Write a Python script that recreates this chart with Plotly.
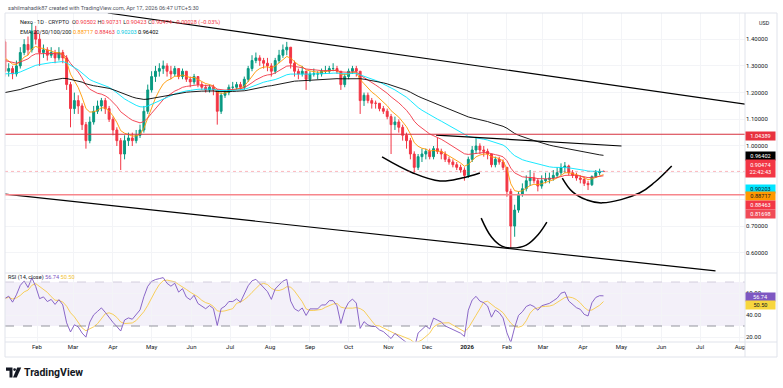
import numpy as np
import pandas as pd
import plotly.graph_objects as go

# ---------------- data ----------------
BAR_START = "2025-01-07"
BAR_DAYS = 3
FIRST_OPEN = 1.39
CLOSES = [1.28, 1.29, 1.27, 1.30, 1.35, 1.38, 1.36, 1.43, 1.40,
          1.35, 1.36, 1.34, 1.35, 1.33, 1.35, 1.33, 1.23, 1.14,
          1.17, 1.15, 1.08, 1.02, 1.09, 1.13, 1.15, 1.17, 1.14, 1.10,
          1.06, 1.02, 0.97, 1.02, 1.03, 1.02, 1.04, 1.06, 1.13, 1.21,
          1.26, 1.28, 1.29, 1.30, 1.28, 1.27, 1.29, 1.26, 1.28, 1.25,
          1.24, 1.26, 1.23, 1.22, 1.21, 1.22, 1.21, 1.13, 1.19, 1.20,
          1.22, 1.22, 1.23, 1.22, 1.25, 1.29, 1.32, 1.33, 1.32, 1.31,
          1.30, 1.28, 1.32, 1.34, 1.36, 1.37, 1.31, 1.28, 1.27, 1.28,
          1.25, 1.27, 1.27, 1.27, 1.28, 1.28, 1.29, 1.29, 1.28, 1.23,
          1.26, 1.28, 1.29, 1.28, 1.17, 1.19, 1.17, 1.16, 1.16, 1.14,
          1.13, 1.11, 1.08, 1.09, 1.07, 1.04, 1.02, 0.97, 0.92, 0.96,
          0.97, 0.98, 0.96, 0.99, 0.98, 0.97, 0.95, 0.94, 0.93, 0.92,
          0.91, 0.89, 0.95, 0.985, 1.00, 0.985, 0.98, 0.97, 0.93, 0.95,
          0.94, 0.92, 0.83, 0.70, 0.76, 0.82, 0.84, 0.87, 0.88, 0.87,
          0.85, 0.87, 0.875, 0.88, 0.89, 0.90, 0.92, 0.925, 0.90, 0.89,
          0.88, 0.875, 0.86, 0.855, 0.885, 0.90, 0.90502, 0.90474]
HIGHS = [1.40, 1.31, 1.30, 1.32, 1.37, 1.40, 1.41, 1.46, 1.45,
         1.42, 1.38, 1.37, 1.37, 1.36, 1.37, 1.36, 1.34, 1.24,
         1.20, 1.19, 1.16, 1.09, 1.11, 1.15, 1.17, 1.18, 1.18, 1.15,
         1.11, 1.07, 1.03, 1.04, 1.05, 1.05, 1.06, 1.08, 1.15, 1.23,
         1.28, 1.30, 1.31, 1.32, 1.31, 1.30, 1.30, 1.29, 1.29, 1.28,
         1.26, 1.27, 1.26, 1.24, 1.23, 1.23, 1.23, 1.21, 1.20, 1.21,
         1.23, 1.24, 1.24, 1.24, 1.26, 1.30, 1.34, 1.35, 1.34, 1.33,
         1.33, 1.31, 1.33, 1.36, 1.38, 1.39, 1.37, 1.32, 1.29, 1.30,
         1.28, 1.28, 1.29, 1.28, 1.29, 1.30, 1.30, 1.31, 1.30, 1.28,
         1.27, 1.29, 1.30, 1.30, 1.28, 1.20, 1.20, 1.18, 1.17, 1.16,
         1.15, 1.14, 1.12, 1.11, 1.10, 1.08, 1.05, 1.03, 0.98, 0.97,
         0.99, 0.99, 0.99, 1.00, 1.03, 0.99, 0.98, 0.96, 0.95, 0.94,
         0.93, 0.92, 0.96, 1.00, 1.03, 1.01, 1.00, 0.99, 0.97, 0.96,
         0.96, 0.95, 0.92, 0.84, 0.78, 0.83, 0.86, 0.89, 0.91, 0.90,
         0.88, 0.89, 0.90, 0.90, 0.91, 0.92, 0.935, 0.94, 0.93, 0.91,
         0.90, 0.89, 0.885, 0.87, 0.89, 0.91, 0.915, 0.90731]
LOWS = [1.26, 1.26, 1.25, 1.26, 1.29, 1.34, 1.34, 1.35, 1.38,
        1.30, 1.33, 1.32, 1.33, 1.31, 1.32, 1.31, 1.21, 1.07,
        1.12, 1.12, 1.06, 0.99, 1.01, 1.08, 1.12, 1.13, 1.12, 1.09,
        1.04, 1.00, 0.91, 0.95, 1.00, 1.00, 1.01, 1.03, 1.05, 1.12,
        1.20, 1.24, 1.26, 1.27, 1.26, 1.25, 1.26, 1.25, 1.25, 1.24,
        1.22, 1.23, 1.22, 1.21, 1.20, 1.20, 1.19, 1.08, 1.12, 1.18,
        1.19, 1.21, 1.21, 1.21, 1.21, 1.24, 1.28, 1.31, 1.30, 1.29,
        1.28, 1.26, 1.27, 1.31, 1.33, 1.34, 1.29, 1.26, 1.25, 1.26,
        1.21, 1.24, 1.26, 1.25, 1.26, 1.27, 1.27, 1.28, 1.27, 1.21,
        1.22, 1.25, 1.27, 1.26, 1.12, 1.15, 1.16, 1.14, 1.14, 1.13,
        1.12, 1.10, 0.97, 1.06, 1.05, 1.02, 0.99, 0.95, 0.90, 0.91,
        0.94, 0.95, 0.95, 0.95, 0.97, 0.95, 0.94, 0.93, 0.92, 0.91,
        0.90, 0.87, 0.88, 0.94, 0.97, 0.97, 0.96, 0.95, 0.92, 0.92,
        0.93, 0.91, 0.81, 0.618, 0.66, 0.75, 0.81, 0.83, 0.85, 0.86,
        0.83, 0.84, 0.86, 0.86, 0.87, 0.88, 0.89, 0.90, 0.89, 0.88,
        0.87, 0.86, 0.85, 0.835, 0.85, 0.88, 0.89, 0.90423]

DAY_OHLC = ["0.90502", "0.90731", "0.90423", "0.90474"]
DAY_CHANGE = "\u22120.00028 (\u22120.03%)"
COUNTDOWN = "22:42:43"

EMA_PERIODS = [20, 50, 100, 200]
EMA_SEED = [1.33, 1.32, 1.27, 1.20]
EMA_LAST = ["0.88717", "0.88463", "0.90203", "0.96402"]
RSI_PERIOD = 14
RSI_SEED = 55.0
RSI_LAST = "56.74"
RSI_MA_LAST = "50.50"

LEVEL_RESIST = 1.04389
LEVEL_SUPPORT = 0.81698

UPPER_TREND_X = ["2025-03-28", "2026-08-05"]
UPPER_TREND_Y = [1.498, 1.157]
LOWER_TREND_X = ["2025-01-07", "2026-07-13"]
LOWER_TREND_Y = [0.820, 0.532]
NECK_TREND_X = ["2025-12-08", "2026-05-01"]
NECK_TREND_Y = [1.041, 1.000]
ARC_LEFT_X = ["2025-10-27", "2025-11-20", "2025-12-11", "2025-12-28", "2026-01-11"]
ARC_LEFT_Y = [0.959, 0.899, 0.869, 0.880, 0.899]
ARC_MID_X = ["2026-01-12", "2026-01-20", "2026-01-28", "2026-02-05", "2026-02-16", "2026-02-25", "2026-03-04"]
ARC_MID_Y = [0.730, 0.659, 0.625, 0.618, 0.629, 0.667, 0.715]
ARC_RIGHT_X = ["2026-03-16", "2026-03-24", "2026-04-04", "2026-04-16", "2026-05-15", "2026-05-27", "2026-06-09"]
ARC_RIGHT_Y = [0.880, 0.828, 0.798, 0.787, 0.824, 0.865, 0.925]

MONTH_TICKS = ["2025-02-01", "2025-03-01", "2025-04-01", "2025-05-01", "2025-06-01",
               "2025-07-01", "2025-08-01", "2025-09-01", "2025-10-01", "2025-11-01",
               "2025-12-01", "2026-01-01", "2026-02-01", "2026-03-01", "2026-04-01",
               "2026-05-01", "2026-06-01", "2026-07-01", "2026-08-01"]
MONTH_LABELS = ["Feb", "Mar", "Apr", "May", "Jun", "Jul", "Aug", "Sep", "Oct", "Nov",
                "Dec", "<b>2026</b>", "Feb", "Mar", "Apr", "May", "Jun", "Jul", "Aug"]
PRICE_TICKS = [0.6, 0.7, 0.8, 0.9, 1.0, 1.1, 1.2, 1.3, 1.4]
PRICE_LABELS = ["0.60000", "0.70000", "", "", "1.00000", "1.10000", "1.20000", "1.30000", "1.40000"]
RSI_TICKS = [20, 40, 60]

# ---------------- styling / layout ----------------
W, H = 783, 388
FONT = "Roboto, 'Liberation Sans', Arial, sans-serif"
TXT = "#131722"
UP, DN = "#089981", "#f23645"
EMA_COLORS = ["#ff9800", "#f23645", "#00e5ff", "#000000"]
GRID = "#f3f4f7"
BORDER = "#e0e3eb"
PANE_L, PANE_R = 5, 745
MAIN_T, MAIN_B = 13, 273
RSI_T, RSI_B = 273, 342
X_RANGE = ["2025-01-07 03:00", "2026-08-04 22:00"]
Y_RANGE = [0.5243, 1.4981]
RSI_RANGE = [15.45, 78.18]


def px(x):
    return x / W


def py(y):
    return 1 - y / H


dates = pd.date_range(BAR_START, periods=len(CLOSES), freq=f"{BAR_DAYS}D")
closes = np.array(CLOSES)
opens = np.concatenate([[FIRST_OPEN], closes[:-1]])
highs = np.maximum.reduce([np.array(HIGHS), opens, closes])
lows = np.minimum.reduce([np.array(LOWS), opens, closes])


def ema(values, period, seed):
    a = 2.0 / (period / BAR_DAYS + 1.0)
    out, e = [seed], seed
    for v in values[1:]:
        e = e + a * (v - e)
        out.append(e)
    return out


# Wilder RSI on the 3-day bars, started from the level shown at the left edge;
# the length is stretched so its swing matches a 14-day RSI on daily candles
n_rsi = 9
n_ma = round(RSI_PERIOD / BAR_DAYS)
diffs = np.diff(closes)
scale = np.abs(diffs).mean()
ag, al = scale * RSI_SEED / 100, scale * (100 - RSI_SEED) / 100
rsi_vals = [RSI_SEED]
for dv in diffs:
    ag = (ag * (n_rsi - 1) + max(dv, 0)) / n_rsi
    al = (al * (n_rsi - 1) + max(-dv, 0)) / n_rsi
    rsi_vals.append(100 - 100 / (1 + ag / al) if al > 0 else 100)
rsi = pd.Series(rsi_vals)
rsi_ma = rsi.rolling(n_ma, min_periods=1).mean()

fig = go.Figure()

fig.add_trace(go.Candlestick(
    x=dates, open=opens, high=highs, low=lows, close=closes,
    increasing=dict(line=dict(color=UP, width=1), fillcolor=UP),
    decreasing=dict(line=dict(color=DN, width=1), fillcolor=DN),
    whiskerwidth=0, xaxis="x", yaxis="y", hoverinfo="skip"))

for p, seed, col in zip(EMA_PERIODS, EMA_SEED, EMA_COLORS):
    fig.add_trace(go.Scatter(x=dates, y=ema(closes, p, seed), mode="lines",
                             line=dict(color=col, width=0.9), xaxis="x", yaxis="y",
                             hoverinfo="skip"))

for xs, ys in [(UPPER_TREND_X, UPPER_TREND_Y), (LOWER_TREND_X, LOWER_TREND_Y),
               (NECK_TREND_X, NECK_TREND_Y)]:
    fig.add_trace(go.Scatter(x=xs, y=ys, mode="lines", line=dict(color="#000000", width=1.2),
                             xaxis="x", yaxis="y", hoverinfo="skip"))
for xs, ys in [(ARC_LEFT_X, ARC_LEFT_Y), (ARC_MID_X, ARC_MID_Y), (ARC_RIGHT_X, ARC_RIGHT_Y)]:
    fig.add_trace(go.Scatter(x=xs, y=ys, mode="lines",
                             line=dict(color="#000000", width=1.5, shape="spline", smoothing=1.1),
                             xaxis="x", yaxis="y", hoverinfo="skip"))

fig.add_trace(go.Scatter(x=dates, y=rsi_ma, mode="lines", line=dict(color="#f7c948", width=0.9),
                         xaxis="x2", yaxis="y2", hoverinfo="skip"))
fig.add_trace(go.Scatter(x=dates, y=rsi, mode="lines", line=dict(color="#7e57c2", width=0.9),
                         xaxis="x2", yaxis="y2", hoverinfo="skip"))

shapes = []
# RSI band
shapes.append(dict(type="rect", xref="x2 domain", yref="y2", x0=0, x1=1, y0=30, y1=70,
                   fillcolor="rgba(126,87,194,0.09)", line=dict(width=0), layer="below"))
for lvl, c in [(70, "#c9c3d6"), (30, "#787b86")]:
    shapes.append(dict(type="line", xref="x2 domain", yref="y2", x0=0, x1=1, y0=lvl, y1=lvl,
                       line=dict(color=c, width=0.8, dash="dash")))
# horizontal levels
shapes.append(dict(type="line", xref="x domain", yref="y", x0=0, x1=1, y0=LEVEL_RESIST,
                   y1=LEVEL_RESIST, line=dict(color="#d6303e", width=1.2)))
shapes.append(dict(type="line", xref="x domain", yref="y", x0=0, x1=1, y0=LEVEL_SUPPORT,
                   y1=LEVEL_SUPPORT, line=dict(color="#f7868c", width=1.5)))
shapes.append(dict(type="line", xref="x domain", yref="y", x0=0, x1=1, y0=closes[-1],
                   y1=closes[-1], line=dict(color="rgba(242,54,69,0.45)", width=0.8, dash="dot")))
# frame & separators
shapes.append(dict(type="rect", xref="paper", yref="paper", x0=px(5), x1=px(777), y0=py(357),
                   y1=py(13), line=dict(color=BORDER, width=1)))
shapes.append(dict(type="line", xref="paper", yref="paper", x0=px(5), x1=px(777), y0=py(RSI_T),
                   y1=py(RSI_T), line=dict(color=BORDER, width=1)))
shapes.append(dict(type="line", xref="paper", yref="paper", x0=px(PANE_R), x1=px(PANE_R),
                   y0=py(357), y1=py(13), line=dict(color=BORDER, width=1)))
shapes.append(dict(type="line", xref="paper", yref="paper", x0=px(5), x1=px(777), y0=py(RSI_B),
                   y1=py(RSI_B), line=dict(color=BORDER, width=1)))


# TradingView logo
def path(points):
    return "M " + " L ".join(f"{px(a):.5f},{py(b):.5f}" for a, b in points) + " Z"


shapes.append(dict(type="path", xref="paper", yref="paper",
                   path=path([(6, 367.5), (12.5, 367.5), (12.5, 377.5), (9.5, 377.5), (9.5, 370.7), (6, 370.7)]),
                   fillcolor=TXT, line=dict(width=0)))
shapes.append(dict(type="circle", xref="paper", yref="paper", x0=px(13.2), x1=px(16.0),
                   y0=py(371.0), y1=py(368.2), fillcolor=TXT, line=dict(width=0)))
shapes.append(dict(type="path", xref="paper", yref="paper",
                   path=path([(17.2, 367.5), (21.2, 367.5), (16.8, 377.5), (13.0, 377.5)]),
                   fillcolor=TXT, line=dict(width=0)))

ann = []


def text(x, y, s, size=5.6, color=TXT, anchor="left"):
    ann.append(dict(xref="paper", yref="paper", x=px(x), y=py(y), xanchor=anchor, yanchor="middle",
                    text=s, showarrow=False, font=dict(size=size, color=color, family=FONT)))


def red(s):
    return f'<span style="color:{DN}">{s}</span>'


text(6, 8, "sahilmahadik87 created with TradingView.com, Apr 17, 2026 06:47 UTC+5:30", color="#50535e")
text(18, 22.5, "Nexo \u00b7 1D \u00b7 CRYPTO  O" + red(DAY_OHLC[0]) + " H" + red(DAY_OHLC[1]) +
     " L" + red(DAY_OHLC[2]) + " C" + red(DAY_OHLC[3]) + " " + red(DAY_CHANGE))
text(18, 31.5, "EMA 20/50/100/200 " + " ".join(
    f'<span style="color:{c if c != "#00e5ff" else "#00c8e0"}">{v}</span>' for v, c in zip(EMA_LAST, EMA_COLORS)))
text(6, 277.5, f'RSI ({RSI_PERIOD}, close) <span style="color:#7e57c2">{RSI_LAST}</span> '
     f'<span style="color:#f2c230">{RSI_MA_LAST}</span>')
text(757, 23, "USD", size=5.4)
text(22, 372, "<b>TradingView</b>", size=10.5)


def box(y, s, bg, fg, h=8.2):
    ann.append(dict(xref="paper", yref="paper", x=px(760), y=py(y), xanchor="center", yanchor="middle",
                    text=s, showarrow=False, bgcolor=bg, width=29, height=h, borderpad=0,
                    font=dict(size=5.6, color=fg, family=FONT), align="center"))


box(135.5, f"{LEVEL_RESIST:.5f}", "#e8323f", "#ffffff")
box(155.5, EMA_LAST[3], "#000000", "#ffffff")
box(168.5, f"{DAY_OHLC[3]}<br>{COUNTDOWN}", DN, "#ffffff", h=16.5)
box(188.5, EMA_LAST[2], "#00e5ff", TXT)
box(196.3, EMA_LAST[0], "#ff9800", TXT)
box(204.5, EMA_LAST[1], DN, "#ffffff")
box(213.5, f"{LEVEL_SUPPORT:.5f}", "#f04b57", "#ffffff")
box(296.5, RSI_LAST, "#7e57c2", "#ffffff")
box(305.2, RSI_MA_LAST, "#f7d63e", TXT)

axis_font = dict(size=6, color=TXT, family=FONT)
fig.update_layout(
    width=W, height=H, margin=dict(l=0, r=0, t=0, b=0),
    paper_bgcolor="white", plot_bgcolor="white", showlegend=False, hovermode=False,
    shapes=shapes, annotations=ann,
    xaxis=dict(domain=[px(PANE_L), px(PANE_R)], range=X_RANGE, anchor="y", type="date",
               tickvals=MONTH_TICKS, showticklabels=False, showgrid=True, gridcolor=GRID,
               zeroline=False, showline=False, rangeslider=dict(visible=False)),
    xaxis2=dict(domain=[px(PANE_L), px(PANE_R)], range=X_RANGE, anchor="y2", type="date",
                matches="x", tickvals=MONTH_TICKS, ticktext=MONTH_LABELS, tickfont=axis_font,
                showgrid=True, gridcolor=GRID, zeroline=False, showline=False, ticks=""),
    yaxis=dict(domain=[py(MAIN_B), py(MAIN_T)], range=Y_RANGE, anchor="x", side="right",
               tickvals=PRICE_TICKS, ticktext=PRICE_LABELS, tickfont=axis_font, showgrid=True,
               gridcolor=GRID, zeroline=False, showline=False, ticks=""),
    yaxis2=dict(domain=[py(RSI_B), py(RSI_T)], range=RSI_RANGE, anchor="x2", side="right",
                tickvals=RSI_TICKS, tickformat=".2f", tickfont=axis_font, showgrid=True,
                gridcolor=GRID, zeroline=False, showline=False, ticks=""),
)

fig.write_html("out.html", config={"staticPlot": True},
               post_script="document.body.style.margin='0';document.body.style.overflow='hidden';")
